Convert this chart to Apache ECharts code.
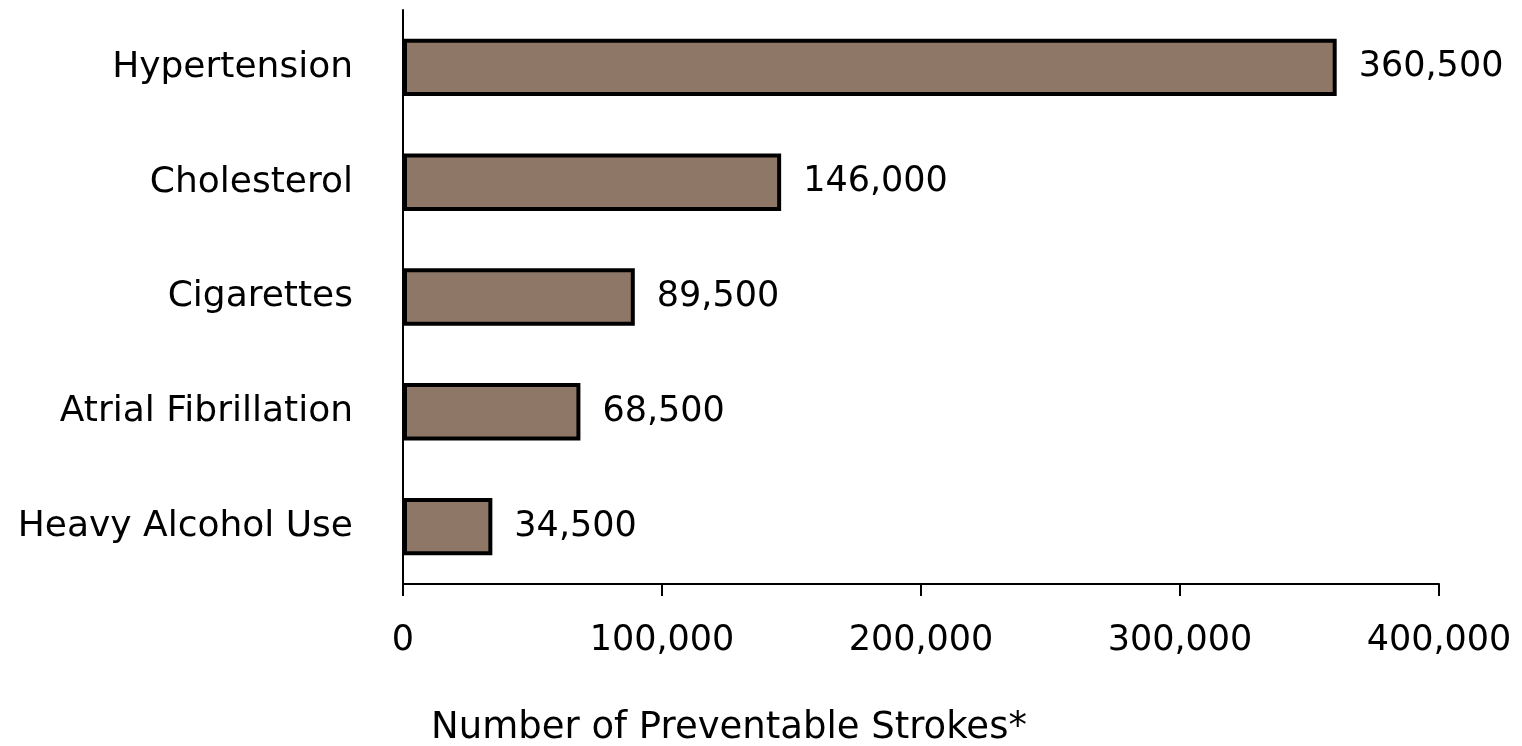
<!DOCTYPE html>
<html>
<head>
<meta charset="utf-8">
<style>
  html, body { margin: 0; padding: 0; background: #ffffff; }
  #chart { width: 1522px; height: 746px; }
</style>
<script src="https://cdn.jsdelivr.net/npm/echarts@6/dist/echarts.min.js"></script>
</head>
<body>
<div id="chart"></div>
<script>
// Risk factors, listed bottom-to-top as the category axis draws them
const categories = ['Heavy Alcohol Use', 'Atrial Fibrillation', 'Cigarettes', 'Cholesterol', 'Hypertension'];
const strokes = [34500, 68500, 89500, 146000, 360500];
const axisTitle = 'Number of Preventable Strokes*';

const FONT = 'DejaVu Sans';
const chart = echarts.init(document.getElementById('chart'));

chart.setOption({
  animation: false,
  backgroundColor: '#ffffff',
  title: {
    text: axisTitle,
    left: 426,
    top: 705,
    textStyle: { fontFamily: FONT, fontSize: 37, fontWeight: 'normal', color: '#000000' }
  },
  grid: { left: 403, right: 83, top: 10, bottom: 162, containLabel: false },
  xAxis: {
    type: 'value',
    min: 0,
    max: 400000,
    interval: 100000,
    axisLine: { show: true, lineStyle: { color: '#000000', width: 2 } },
    axisTick: { show: true, inside: false, length: 12, lineStyle: { color: '#000000', width: 2 } },
    splitLine: { show: false },
    axisLabel: {
      margin: 39,
      fontFamily: FONT,
      fontSize: 35,
      color: '#000000',
      formatter: v => v.toLocaleString('en-US')
    }
  },
  yAxis: {
    type: 'category',
    data: categories,
    axisLine: { show: true, lineStyle: { color: '#000000', width: 2 } },
    axisTick: { show: false },
    axisLabel: { margin: 50, fontFamily: FONT, fontSize: 36, color: '#000000' }
  },
  series: [{
    type: 'bar',
    data: strokes,
    barWidth: '50%',
    itemStyle: { color: '#8e7767', borderColor: '#000000', borderWidth: 4 },
    label: {
      show: true,
      position: 'right',
      distance: 22,
      fontFamily: FONT,
      fontSize: 35,
      color: '#000000',
      formatter: p => p.value.toLocaleString('en-US')
    }
  }]
});
</script>
</body>
</html>
